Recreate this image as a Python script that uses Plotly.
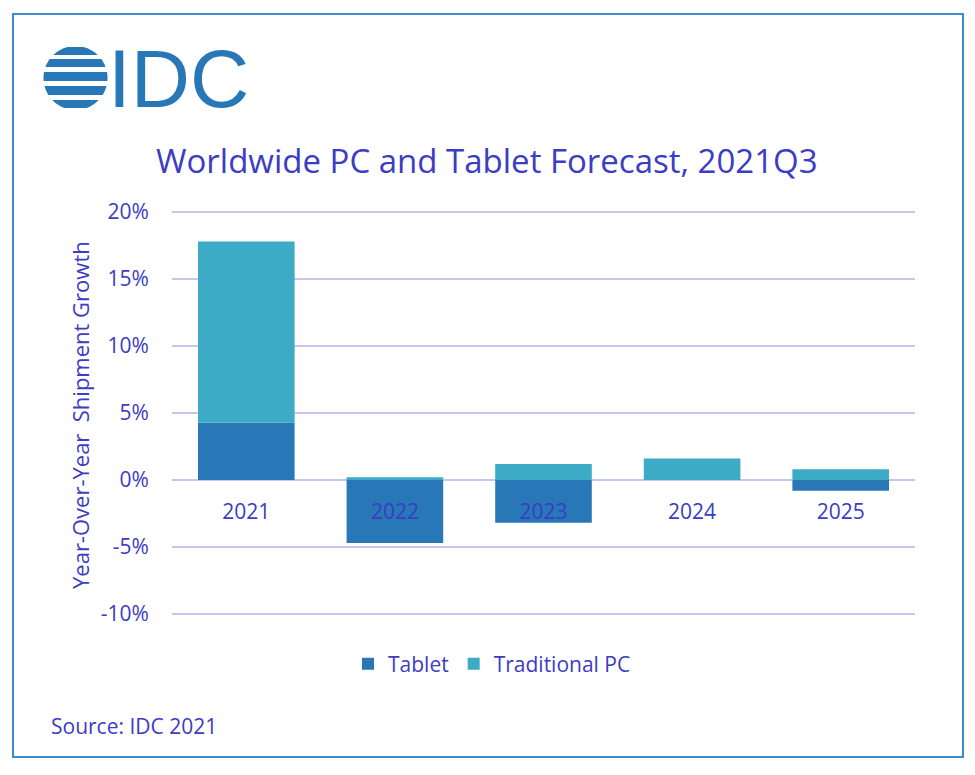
import math
import plotly.graph_objects as go

# Data (YoY shipment growth, %)
years = ["2021", "2022", "2023", "2024", "2025"]
tablet = [4.3, -4.7, -3.2, 0.0, -0.8]
traditional_pc = [13.5, 0.2, 1.2, 1.6, 0.8]

y_ticks = [20, 15, 10, 5, 0, -5, -10]
y_tick_labels = ["20%", "15%", "10%", "5%", "0%", "-5%", "-10%"]

TABLET_COLOR = "#2878b8"
PC_COLOR = "#3dabc6"
TEXT_COLOR = "#3c3cc4"
GRID_COLOR = "#c6c6f2"
FONT = "Open Sans"

# the page body adds 8px, so the figure is drawn 8px smaller and shifted
OFF = 8
W, H = 975 - OFF, 775 - OFF
# plot area in reference-picture pixels
L, R, T, B = 172, 915, 211, 615


def px(x):
    return (x - L) / (R - L)


def py(y):
    return (B - y) / (B - T)


fig = go.Figure()
fig.add_trace(go.Bar(x=years, y=tablet, name="Tablet", marker_color=TABLET_COLOR,
                     marker_line_width=0))
fig.add_trace(go.Bar(x=years, y=traditional_pc, name="Traditional PC",
                     marker_color=PC_COLOR, marker_line_width=0))

shapes = []
# outer frame
shapes.append(dict(type="rect", xref="paper", yref="paper",
                   x0=px(13), x1=px(963), y0=py(757), y1=py(14),
                   line=dict(color="#3f8bd0", width=2), fillcolor="rgba(0,0,0,0)",
                   layer="below"))

# striped globe of the logo: horizontal bands cut out of a circle
cx, cy, r = 75.5, 78, 32


def band_path(y0, y1, n=6):
    left, right = [], []
    for k in range(n + 1):
        yy = y0 + (y1 - y0) * k / n
        hw = math.sqrt(max(r * r - (yy - cy) ** 2, 0))
        left.append((cx - hw, yy))
        right.append((cx + hw, yy))
    pts = left + right[::-1]
    return "M " + " L ".join(f"{px(x):.5f},{py(y):.5f}" for x, y in pts) + " Z"


for y0, y1 in [(47, 55), (59, 67), (72, 81), (86, 95), (100, 108)]:
    shapes.append(dict(type="path", xref="paper", yref="paper",
                       path=band_path(y0, y1), line_width=0,
                       fillcolor=TABLET_COLOR))

annotations = [
    dict(text="IDC", x=px(106), y=py(79), xref="paper", yref="paper",
         xanchor="left", yanchor="middle", showarrow=False,
         font=dict(family="Liberation Sans", size=82, color=TABLET_COLOR)),
    dict(text="Worldwide PC and Tablet Forecast, 2021Q3", x=px(487), y=py(160),
         xref="paper", yref="paper", xanchor="center", yanchor="middle",
         showarrow=False, font=dict(family=FONT, size=33, color=TEXT_COLOR)),
    dict(text="Year-Over-Year&nbsp;&nbsp;Shipment Growth", x=px(80), y=py(415),
         xref="paper", yref="paper", xanchor="center", yanchor="middle",
         textangle=-90, showarrow=False,
         font=dict(family=FONT, size=22, color=TEXT_COLOR)),
    dict(text="Source: IDC 2021", x=px(49), y=py(726), xref="paper", yref="paper",
         xanchor="left", yanchor="middle", showarrow=False,
         font=dict(family=FONT, size=21, color=TEXT_COLOR)),
]

fig.update_layout(
    width=W, height=H,
    margin=dict(l=L - OFF, r=W - (R - OFF), t=T - OFF, b=H - (B - OFF)),
    barmode="relative",
    bargap=0.35,
    plot_bgcolor="white",
    paper_bgcolor="white",
    font=dict(family=FONT, size=20, color=TEXT_COLOR),
    shapes=shapes,
    annotations=annotations,
    legend=dict(orientation="h", x=px(492), y=py(664), xanchor="center",
                yanchor="middle", traceorder="normal",
                font=dict(family=FONT, size=21, color=TEXT_COLOR)),
    xaxis=dict(anchor="free", position=py(481), showline=False, showgrid=False,
               ticks="outside", ticklen=12, tickcolor="rgba(0,0,0,0)",
               tickfont=dict(size=21, color=TEXT_COLOR)),
    yaxis=dict(range=[-10.08, 20.08], tickvals=y_ticks, ticktext=y_tick_labels,
               showgrid=True, gridcolor=GRID_COLOR, gridwidth=1.5,
               zeroline=True, zerolinecolor=GRID_COLOR, zerolinewidth=1.5,
               ticks="outside", ticklen=18, tickcolor="rgba(0,0,0,0)",
               tickfont=dict(size=21, color=TEXT_COLOR)),
)

fig.write_html("out.html")
